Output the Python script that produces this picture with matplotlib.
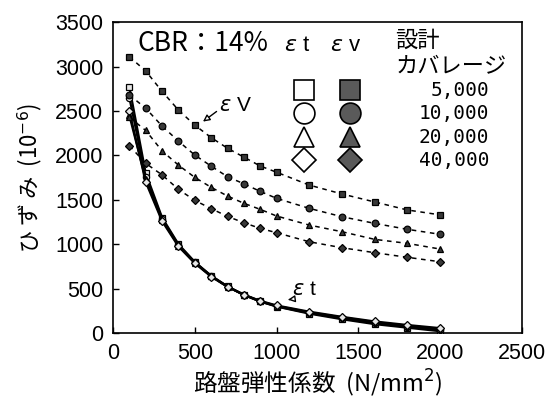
import numpy as np
import matplotlib
matplotlib.use('Agg')
import matplotlib.pyplot as plt

plt.rcParams['font.family'] = ['Liberation Sans', 'Noto Sans CJK JP', 'DejaVu Sans']

# subgrade modulus (N/mm2)
modulus = [100, 200, 300, 400, 500, 600, 700, 800, 900, 1000, 1200, 1400, 1600, 1800, 2000]
coverage_labels = ['5,000', '10,000', '20,000', '40,000']
markers = ['s', 'o', '^', 'D']

# vertical strain on subgrade (x1e-6)
ev_5000 = [3110, 2950, 2720, 2510, 2340, 2200, 2080, 1980, 1880, 1810, 1665, 1565, 1475, 1385, 1330]
ev_10000 = [2680, 2530, 2330, 2160, 2003, 1879, 1759, 1680, 1594, 1516, 1403, 1309, 1234, 1167, 1111]
ev_20000 = [2430, 2280, 2050, 1890, 1752, 1640, 1542, 1460, 1392, 1317, 1215, 1140, 1054, 1009, 945]
ev_40000 = [2108, 1910, 1780, 1617, 1493, 1400, 1313, 1241, 1178, 1129, 1027, 960, 904, 852, 802]

# tensile strain at bottom of asphalt layer (x1e-6)
et_5000 = [2770, 1800, 1300, 1000, 800, 645, 525, 430, 355, 298, 218, 155, 100, 60, 20]
et_10000 = [2650, 1760, 1285, 990, 795, 640, 522, 428, 355, 300, 225, 165, 112, 70, 32]
et_20000 = [2450, 1730, 1275, 985, 792, 640, 522, 430, 358, 305, 232, 175, 122, 82, 45]
et_40000 = [2500, 1700, 1260, 975, 785, 635, 520, 432, 362, 310, 240, 182, 130, 90, 55]

ev_all = [ev_5000, ev_10000, ev_20000, ev_40000]
et_all = [et_5000, et_10000, et_20000, et_40000]

fill = '#383838'
jp = ['Noto Sans CJK JP', 'DejaVu Sans']

fig = plt.figure(figsize=(5.58, 4.08), dpi=100)
ax = fig.add_axes([0.2025, 0.1838, 0.733, 0.762])

for ys, m in zip(et_all, markers):
    ax.plot(modulus, ys, color='black', lw=1.6, marker=m, ms=4.5 if m != 'D' else 3.8,
            mfc='#e6e6e6', mec='black', mew=0.9, zorder=3)
for ys, m in zip(ev_all, markers):
    ax.plot(modulus, ys, color='black', lw=1.1, ls=(0, (3, 3)), marker=m,
            ms=4.8 if m != 'D' else 4.0, mfc=fill, mec='black', mew=0.9, zorder=4)

ax.set_xlim(0, 2500)
ax.set_ylim(0, 3500)
ax.set_xticks(np.arange(0, 2501, 500))
ax.set_yticks(np.arange(0, 3501, 500))
ax.tick_params(direction='in', length=4, width=1, labelsize=15.5, pad=7)
for s in ax.spines.values():
    s.set_linewidth(1.2)

ax.set_xlabel('路盤弾性係数  (N/mm$^2$)', fontsize=17, family=jp, labelpad=3)
ax.set_ylabel('ひ ず み  (10$^{-6}$)', fontsize=16, family=jp, labelpad=8)

# header block
ax.text(0.06, 0.93, 'CBR：14%', transform=ax.transAxes, fontsize=19,
        family=['Liberation Sans Narrow', 'Noto Sans CJK JP'], va='center', ha='left')
ax.text(0.418, 0.925, r'$\varepsilon$ t', transform=ax.transAxes, fontsize=16,
        va='center', ha='left')
ax.text(0.53, 0.925, r'$\varepsilon$ v', transform=ax.transAxes, fontsize=16,
        va='center', ha='left')
ax.text(0.69, 0.942, '設計', transform=ax.transAxes, fontsize=16,
        family=jp, va='center', ha='left')
ax.text(0.69, 0.859, 'カバレージ', transform=ax.transAxes, fontsize=16,
        family=jp, va='center', ha='left')

# legend rows drawn by hand
row_y = [2734, 2475, 2205, 1947]
for yy, m, lab in zip(row_y, markers, coverage_labels):
    big = 15 if m != 'D' else 12
    ax.plot([1168], [yy], marker=m, ms=big, mfc='white', mec='black', mew=1.2, ls='none')
    ax.plot([1450], [yy], marker=m, ms=big, mfc='#5a5a5a', mec='black', mew=1.2, ls='none')
    ax.text(2300, yy, lab, fontsize=14, family=['DejaVu Sans Mono'], va='center', ha='right')

# curve callouts
ax.annotate(r'$\varepsilon$ V', xy=(550, 2380), xytext=(650, 2560), fontsize=15,
            va='center', ha='left',
            arrowprops=dict(arrowstyle='-|>', color='black', lw=1, fc='white',
                            mutation_scale=10, shrinkA=0, shrinkB=0, relpos=(0, 0.3)))
ax.annotate(r'$\varepsilon$ t', xy=(1070, 375), xytext=(1095, 490), fontsize=15,
            va='center', ha='left',
            arrowprops=dict(arrowstyle='-|>', color='black', lw=1, fc='white',
                            mutation_scale=10, shrinkA=0, shrinkB=0, relpos=(0.05, 0)))

fig.savefig('out.png', dpi=100)
